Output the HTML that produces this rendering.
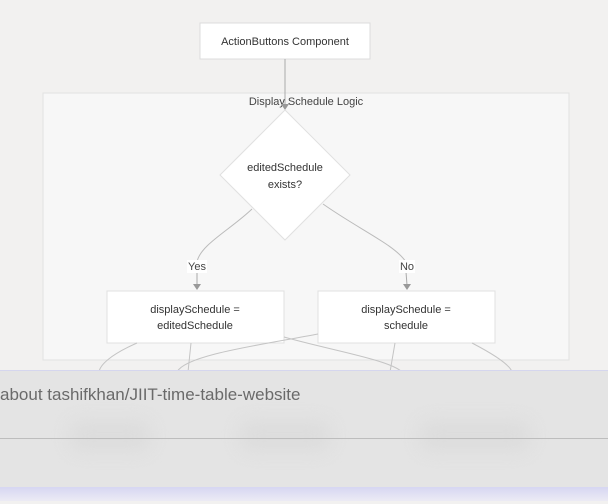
<!DOCTYPE html>
<html><head><meta charset="utf-8"><style>
html,body{margin:0;padding:0;width:608px;height:504px;overflow:hidden;background:#f2f1f0;font-family:"Liberation Sans",sans-serif;}
svg{position:absolute;left:0;top:0}
#ov{position:absolute;left:0;top:370px;width:608px;height:117px;background:#e4e4e4;border-top:1px solid #d5d6ee;}
#ov .t{position:absolute;left:0;top:14px;font-size:17px;color:#6a6a6a;white-space:nowrap}
#ov .l{position:absolute;left:0;top:67px;width:608px;height:1px;background:#bdbdbd}
#bot{position:absolute;left:0;top:487px;width:608px;height:14px;background:linear-gradient(#d6d6f2,#ecebf4);}
.b{position:absolute;background:#dcdcdc;filter:blur(9px);border-radius:10px}
</style></head><body>
<svg width="608" height="504" viewBox="0 0 608 504">
<rect x="43" y="93" width="526" height="267" fill="#f7f7f7" stroke="#e2e2e2"/>
<rect x="200" y="23" width="170" height="36" fill="#fff" stroke="#dcdcdc"/>
<text x="285" y="45" font-size="11" fill="#333" text-anchor="middle">ActionButtons Component</text>
<text x="306" y="105" font-size="11" fill="#444" text-anchor="middle">Display Schedule Logic</text>
<line x1="285" y1="59" x2="285" y2="106" stroke="#aaa"/>
<polygon points="281,104 289,104 285,110" fill="#999"/>
<polygon points="285,110 350,175 285,240 220,175" fill="#fff" stroke="#e0e0e0"/>
<text x="285" y="171" font-size="11" fill="#333" text-anchor="middle">editedSchedule</text>
<text x="285" y="188" font-size="11" fill="#333" text-anchor="middle">exists?</text>
<path d="M252,209 C230,230 200,245 197,262" fill="none" stroke="#bbb"/>
<path d="M197,272 L197,285" stroke="#aaa"/>
<polygon points="193,284 201,284 197,290" fill="#999"/>
<path d="M323,204 C360,230 395,245 406,262" fill="none" stroke="#bbb"/>
<path d="M406,272 L407,285" stroke="#aaa"/>
<polygon points="403,284 411,284 407,290" fill="#999"/>
<rect x="187" y="260" width="20" height="13" fill="#fff"/>
<text x="197" y="270" font-size="11" fill="#444" text-anchor="middle">Yes</text>
<rect x="399" y="260" width="16" height="13" fill="#fff"/>
<text x="407" y="270" font-size="11" fill="#444" text-anchor="middle">No</text>
<rect x="107" y="291" width="177" height="52" fill="#fff" stroke="#e0e0e0"/>
<text x="195" y="313" font-size="11" fill="#333" text-anchor="middle">displaySchedule =</text>
<text x="195" y="329" font-size="11" fill="#333" text-anchor="middle">editedSchedule</text>
<rect x="318" y="291" width="177" height="52" fill="#fff" stroke="#e0e0e0"/>
<text x="406" y="313" font-size="11" fill="#333" text-anchor="middle">displaySchedule =</text>
<text x="406" y="329" font-size="11" fill="#333" text-anchor="middle">schedule</text>
<g fill="none" stroke="#c4c4c4">
<path d="M137,343 C110,355 100,365 99,372"/>
<path d="M191,343 L188,372"/>
<path d="M318,334 C260,345 185,355 177,372"/>
<path d="M284,337 C330,350 390,360 402,372"/>
<path d="M395,343 L390,372"/>
<path d="M472,343 C495,355 510,365 512,372"/>
</g>
</svg>
<div id="ov">
<div class="b" style="left:70px;top:50px;width:80px;height:30px"></div>
<div class="b" style="left:240px;top:50px;width:90px;height:30px"></div>
<div class="b" style="left:420px;top:50px;width:110px;height:30px"></div>
<div class="t">about tashifkhan/JIIT-time-table-website</div>
<div class="l"></div>
</div>
<div id="bot"></div>
</body></html>
